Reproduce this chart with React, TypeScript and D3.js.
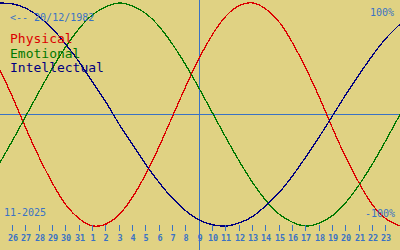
import React from "react";
import * as d3 from "d3";

// Days shown on the axis (Oct 26 .. Nov 23)
const tickLabels = ["26","27","28","29","30","31","1","2","3","4","5","6","7","8","9","10","11","12","13","14","15","16","17","18","19","20","21","22","23"];
// Curve samples, one per day from Oct 25 to Nov 24 (fraction of 100%)
const physical = [0.40,0.14,-0.14,-0.40,-0.63,-0.82,-0.94,-1.00,-0.98,-0.89,-0.73,-0.52,-0.27,0,0.27,0.52,0.73,0.89,0.98,1.00,0.94,0.82,0.63,0.40,0.14,-0.14,-0.40,-0.63,-0.82,-0.94,-1.00];
const emotional = [-0.43,-0.22,0,0.22,0.43,0.62,0.78,0.90,0.97,1.00,0.97,0.90,0.78,0.62,0.43,0.22,0,-0.22,-0.43,-0.62,-0.78,-0.90,-0.97,-1.00,-0.97,-0.90,-0.78,-0.62,-0.43,-0.22,0];
const intellectual = [1.00,0.99,0.95,0.87,0.76,0.62,0.46,0.28,0.10,-0.10,-0.28,-0.46,-0.62,-0.76,-0.87,-0.95,-0.99,-1.00,-0.97,-0.91,-0.81,-0.69,-0.54,-0.37,-0.19,0,0.19,0.37,0.54,0.69,0.81];
const seriesNames = ["Physical", "Emotional", "Intellectual"];
const seriesColors = ["#dc0000", "#007800", "#000080"];
const birthLabel = "<-- 20/12/1982";
const monthLabel = "11-2025";
const todayIndex = 15;

const W = 400, H = 250;
const BG = "#e0d283";
const BLUE = "#3a72c4";
const FONT = "'DejaVu Sans Mono', 'Liberation Mono', monospace";

export default function App() {
  const x = d3.scaleLinear().domain([0, 30]).range([0, W]);
  const y = d3.scaleLinear().domain([-1, 1]).range([226, 3]);
  const line = d3.line<number>().x((_, i) => x(i)).y((d) => y(d)).curve(d3.curveNatural);
  const px = (v: number) => Math.floor(v) - 0.5;
  const series = [physical, emotional, intellectual];

  return (
    <svg width={W} height={H} style={{ position: "absolute", left: 0, top: 0, display: "block" }}>
      <rect x={0} y={0} width={W} height={H} fill={BG} />
      <line x1={0} x2={W} y1={Math.floor(y(0)) + 0.5} y2={Math.floor(y(0)) + 0.5} stroke={BLUE} strokeWidth={1} shapeRendering="crispEdges" />
      <line x1={px(x(todayIndex))} x2={px(x(todayIndex))} y1={0} y2={H} stroke={BLUE} strokeWidth={1} shapeRendering="crispEdges" />
      {series.map((s, i) => (
        <path key={i} d={line(s) || ""} fill="none" stroke={seriesColors[i]} strokeWidth={1.3} shapeRendering="crispEdges" />
      ))}
      <text x={10} y={21} fill={BLUE} fontFamily={FONT} fontSize={10}>{birthLabel}</text>
      {seriesNames.map((n, i) => (
        <text key={n} x={10} y={43 + i * 14.5} fill={seriesColors[i]} fontFamily={FONT} fontSize={13}>{n}</text>
      ))}
      <text x={394} y={16} fill={BLUE} fontFamily={FONT} fontSize={10} textAnchor="end">100%</text>
      <text x={395} y={217} fill={BLUE} fontFamily={FONT} fontSize={10} textAnchor="end">-100%</text>
      <text x={4} y={216} fill={BLUE} fontFamily={FONT} fontSize={10}>{monthLabel}</text>
      {tickLabels.map((t, i) => {
        const cx = px(x(i + 1));
        return (
          <g key={i}>
            <line x1={cx} x2={cx} y1={225} y2={231} stroke={BLUE} strokeWidth={1} shapeRendering="crispEdges" />
            <text x={cx + 0.5} y={241} fill={BLUE} fontFamily={FONT} fontSize={8.5} fontWeight="bold" textAnchor="middle">{t}</text>
          </g>
        );
      })}
    </svg>
  );
}
